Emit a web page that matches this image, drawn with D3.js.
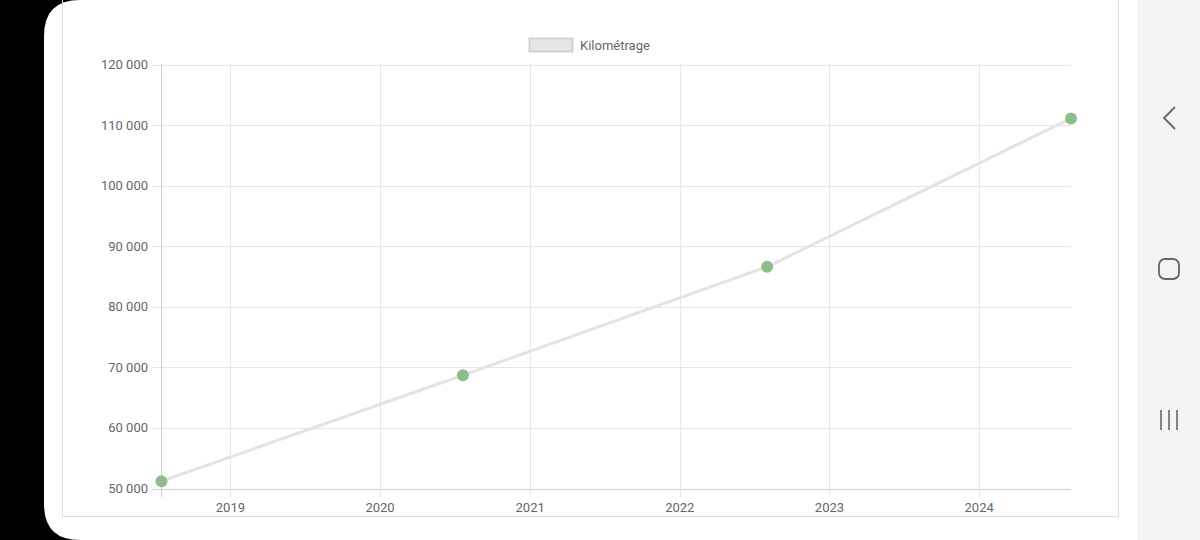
<!DOCTYPE html>
<html><head><meta charset="utf-8">
<script src="https://cdn.jsdelivr.net/npm/d3@7/dist/d3.min.js"></script>
<style>html,body{margin:0;padding:0;background:#000;overflow:hidden}svg{display:block}text{font-family:Roboto,"Noto Sans",sans-serif}</style>
</head><body>
<script>
const seriesName = "Kilométrage";
const dates = ["2018-07-17", "2020-07-21", "2022-08-02", "2024-08-12"];
const values = [51200, 68700, 86600, 111100];
const yTicks = [50000, 60000, 70000, 80000, 90000, 100000, 110000, 120000];
const xTickYears = [2019, 2020, 2021, 2022, 2023, 2024];

const W = 1200, H = 540;
const svg = d3.select("body").append("svg").attr("width", W).attr("height", H);
svg.append("rect").attr("width", W).attr("height", H).attr("fill", "#000");
// white phone panel with rounded left corners
svg.append("path").attr("fill", "#fff")
  .attr("d", "M80,0 H1200 V540 H80 Q44,540 44,504 V36 Q44,0 80,0 Z");
// nav bar
svg.append("rect").attr("x", 1137).attr("y", 0).attr("width", 63).attr("height", H).attr("fill", "#f4f4f4");
svg.append("path").attr("d", "M1175,107 L1164,118 L1175,129").attr("fill", "none").attr("stroke", "#666").attr("stroke-width", 1.8);
svg.append("rect").attr("x", 1159).attr("y", 259).attr("width", 20).attr("height", 20).attr("rx", 6)
  .attr("fill", "none").attr("stroke", "#666").attr("stroke-width", 1.8);
[1161, 1169, 1177].forEach(x => svg.append("line").attr("x1", x).attr("x2", x).attr("y1", 410).attr("y2", 430)
  .attr("stroke", "#666").attr("stroke-width", 1.6));
// chart box border
svg.append("rect").attr("x", 62.5).attr("y", -5).attr("width", 1056).attr("height", 521.5)
  .attr("fill", "none").attr("stroke", "#ddd").attr("stroke-width", 1);

const parse = d3.timeParse("%Y-%m-%d");
const data = dates.map((d, i) => ({ date: parse(d), value: values[i] }));

const x = d3.scaleTime().domain([data[0].date, data[data.length - 1].date]).range([161.5, 1071]);
const y = d3.scaleLinear().domain([50000, 120000]).range([488.5, 64.5]);
const fmt = v => d3.format(",")(v).replace(/,/g, " ");

const g = svg.append("g");
// horizontal grid
g.selectAll(".hg").data(yTicks).join("line")
  .attr("x1", 152).attr("x2", 1071).attr("y1", d => Math.round(y(d)) + 0.5).attr("y2", d => Math.round(y(d)) + 0.5)
  .attr("stroke", d => d === 50000 ? "#ccc" : "#e6e6e6").attr("stroke-width", 1);
// vertical grid
const xTicks = xTickYears.map(yr => new Date(yr, 0, 1));
g.selectAll(".vg").data(xTicks).join("line")
  .attr("x1", d => Math.round(x(d)) + 0.5).attr("x2", d => Math.round(x(d)) + 0.5)
  .attr("y1", 64).attr("y2", 497).attr("stroke", "#e6e6e6");
g.append("line").attr("x1", 161.5).attr("x2", 161.5).attr("y1", 64).attr("y2", 497).attr("stroke", "#ccc");
// y labels
g.selectAll(".yl").data(yTicks).join("text")
  .attr("x", 148).attr("y", d => y(d)).attr("dy", "0.35em").attr("text-anchor", "end")
  .attr("font-size", 13).attr("fill", "#666").text(fmt);
// x labels
g.selectAll(".xl").data(xTicks).join("text")
  .attr("x", d => x(d)).attr("y", 512).attr("text-anchor", "middle")
  .attr("font-size", 13).attr("fill", "#666").text(d => d.getFullYear());

// line
const line = d3.line().x(d => x(d.date)).y(d => y(d.value));
g.append("path").datum(data).attr("d", line).attr("fill", "none").attr("stroke", "#e3e3e3").attr("stroke-width", 3);
g.selectAll(".pt").data(data).join("circle")
  .attr("cx", d => x(d.date)).attr("cy", d => y(d.value)).attr("r", 6).attr("fill", "#8fbc8f");

// legend
svg.append("rect").attr("x", 529.5).attr("y", 38.5).attr("width", 43).attr("height", 13)
  .attr("fill", "#e6e6e6").attr("stroke", "#d2d2d2").attr("stroke-width", 2);
svg.append("text").attr("x", 580).attr("y", 45).attr("dy", "0.35em").attr("font-size", 13).attr("fill", "#666").text(seriesName);
</script>
</body></html>
